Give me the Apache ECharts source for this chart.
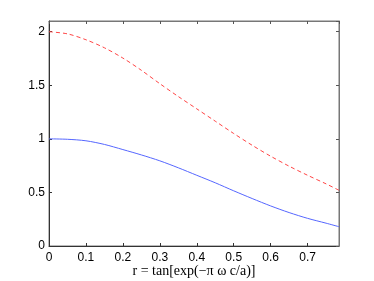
<!DOCTYPE html>
<html>
<head>
<meta charset="utf-8">
<script src="https://cdn.jsdelivr.net/npm/echarts@6/dist/echarts.min.js"></script>
<style>
  html, body { margin: 0; padding: 0; background: #fff; }
  #chart { width: 374px; height: 281px; }
</style>
</head>
<body>
<div id="chart"></div>
<script>
// r values along the x axis
const rValues = [0, 0.05, 0.1, 0.15, 0.2, 0.25, 0.3, 0.35, 0.4, 0.45, 0.5, 0.55, 0.6, 0.65, 0.7, 0.75, 0.785];
// solid blue curve
const blueValues = [1.0, 0.996, 0.982, 0.948, 0.90, 0.85, 0.795, 0.73, 0.66, 0.59, 0.515, 0.443, 0.374, 0.312, 0.258, 0.213, 0.18];
// dashed red curve
const redValues = [2.0, 1.98, 1.925, 1.85, 1.754, 1.64, 1.515, 1.395, 1.28, 1.165, 1.05, 0.94, 0.838, 0.745, 0.66, 0.58, 0.52];
const xLabel = 'r = tan[exp(\u2212\u03c0 \u03c9 c/a)]';

const pairs = (ys) => rValues.map((r, i) => [r, ys[i]]);

const chart = echarts.init(document.getElementById('chart'));
const axisFont = { fontFamily: 'Liberation Sans, Arial, sans-serif', fontSize: 12, color: '#000' };

const option = {
    animation: false,
    grid: {
        left: 49, right: 35, top: 21, bottom: 35,
        outerBoundsMode: 'none', containLabel: false,
        show: true, borderColor: '#777', borderWidth: 1
    },
    xAxis: [
        {
            type: 'value', min: 0, max: 0.785, interval: 0.1,
            position: 'bottom',
            name: xLabel, nameLocation: 'middle', nameGap: 18, nameMoveOverlap: false,
            nameTextStyle: { fontFamily: 'Liberation Serif, Times New Roman, serif', fontSize: 14, color: '#000' },
            axisLine: { show: true, lineStyle: { color: '#333', width: 1 } },
            axisTick: { show: true, inside: true, length: 3, lineStyle: { color: '#333' } },
            axisLabel: Object.assign({ margin: 6, showMaxLabel: false }, axisFont),
            splitLine: { show: false }
        },
        {
            type: 'value', min: 0, max: 0.785, interval: 0.1,
            position: 'top',
            axisLine: { show: true, onZero: false, lineStyle: { color: '#777', width: 1 } },
            axisTick: { show: true, inside: true, length: 3, lineStyle: { color: '#555' } },
            axisLabel: { show: false },
            splitLine: { show: false }
        }
    ],
    yAxis: [
        {
            type: 'value', min: 0, max: 2.1, interval: 0.5,
            position: 'left',
            axisLine: { show: true, lineStyle: { color: '#333', width: 1 } },
            axisTick: { show: true, inside: true, length: 3, lineStyle: { color: '#333' } },
            axisLabel: Object.assign({ margin: 4, showMaxLabel: false }, axisFont),
            splitLine: { show: false }
        },
        {
            type: 'value', min: 0, max: 2.1, interval: 0.5,
            position: 'right',
            axisLine: { show: true, onZero: false, lineStyle: { color: '#777', width: 1 } },
            axisTick: { show: true, inside: true, length: 3, lineStyle: { color: '#555' } },
            axisLabel: { show: false },
            splitLine: { show: false }
        }
    ],
    series: [
        {
            type: 'line', data: pairs(blueValues), smooth: 0.3,
            showSymbol: false,
            lineStyle: { color: '#5566ff', width: 1 }
        },
        {
            type: 'line', data: pairs(redValues), smooth: 0.3,
            showSymbol: false,
            lineStyle: { color: '#ff4444', width: 1, type: [4, 3] }
        },
        {
            // empty series so the top/right frame axes are drawn
            type: 'line', data: [], xAxisIndex: 1, yAxisIndex: 1
        }
    ]
};
chart.setOption(option);
</script>
</body>
</html>
